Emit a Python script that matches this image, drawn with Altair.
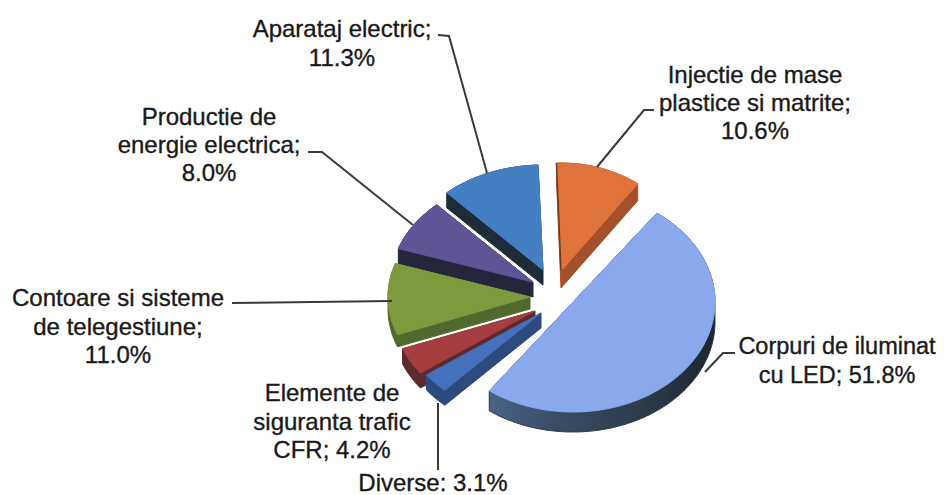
import math
import altair as alt
import pandas as pd

# --- values (drawing order of the original: clockwise from top)
names = ["Injectie", "LED", "Diverse", "Elemente", "Contoare", "Productie", "Aparataj"]
shares = [10.6, 51.8, 3.1, 4.2, 11.0, 8.0, 11.3]
top_colors = ["#E0733C", "#8AA8EC", "#4470BC", "#A53E40", "#7F9A3E", "#5F5596", "#437FC2"]
side_colors = ["#A4502C", "#37475A", "#2B4A7E", "#5E2A2C", "#506A2E", "#25263C", "#1E2B38"]

label_lines = [
    ["Injectie de mase", "plastice si matrite;", "10.6%"],
    ["Corpuri de iluminat", "cu LED; 51.8%"],
    ["Diverse: 3.1%"],
    ["Elemente de", "siguranta trafic", "CFR; 4.2%"],
    ["Contoare si sisteme", "de telegestiune;", "11.0%"],
    ["Productie de", "energie electrica;", "8.0%"],
    ["Aparataj electric;", "11.3%"],
]

# --- layout (page pixels)
W, H = 938, 495
start_deg = -2.0
centers = [(561, 271), (573, 302), (541, 313), (535, 311), (530, 297), (533, 282), (543, 270)]
radii = [(130, 108), (142, 110), (142, 105), (142, 105), (142, 105), (142, 105), (142, 105)]
depths = [17, 20, 15, 15, 12, 15, 15]
end_trim_deg = [0, 6.5, 0, 0, 0, 0, 0]
draw_order = [0, 6, 5, 4, 3, 2, 1]
label_pos = [
    (755, [76, 104, 132], 24), (837, [347, 376], 23.5), (433, [484], 24), (332, [394, 423, 451], 24),
    (118, [299, 328, 356], 24), (209, [118, 146, 174], 24), (342, [30, 59], 24),
]
leaders = [
    [(654, 110), (644, 110), (597, 167)],
    [(735, 353), (723, 353), (705, 372)],
    [(438, 403), (438, 470)],
    [(232, 303), (392, 301)],
    [(308, 152), (322, 152), (413, 225)],
    [(438, 35), (449, 36), (487, 173)],
]
led_side_gradient = alt.LinearGradient(
    gradient="linear", x1=0, x2=1, y1=0, y2=0,
    stops=[
        alt.GradientStop(offset=0, color="#4A6285"),
        alt.GradientStop(offset=0.3, color="#3A4D66"),
        alt.GradientStop(offset=0.7, color="#2C3A48"),
        alt.GradientStop(offset=1, color="#1C2630"),
    ],
)

X = alt.X("x:Q", scale=alt.Scale(domain=[8, W], range=[0, W - 8], nice=False, zero=False), axis=None)
Y = alt.Y("y:Q", scale=alt.Scale(domain=[8, H], range=[0, H - 8], nice=False, zero=False), axis=None)


def sector(i):
    a0 = start_deg + 3.6 * sum(shares[:i])
    a1 = a0 + 3.6 * shares[i] - end_trim_deg[i]
    cx, cy = centers[i]
    rx, ry = radii[i]
    n = max(4, int((a1 - a0) / 2))
    pts = [(cx, cy)]
    for k in range(n + 1):
        t = math.radians(a0 + (a1 - a0) * k / n)
        pts.append((cx + rx * math.sin(t), cy - ry * math.cos(t)))
    return pts


def hull(points):
    pts = sorted(set(points))
    def half(seq):
        out = []
        for p in seq:
            while len(out) >= 2 and (out[-1][0] - out[-2][0]) * (p[1] - out[-2][1]) - (out[-1][1] - out[-2][1]) * (p[0] - out[-2][0]) <= 0:
                out.pop()
            out.append(p)
        return out[:-1]
    return half(pts) + half(pts[::-1])


def polygon(pts, color, stroke=None):
    rows = [{"x": p[0], "y": p[1], "o": j} for j, p in enumerate(pts + pts[:1])]
    return alt.Chart(pd.DataFrame(rows)).mark_line(
        fill=color, stroke=stroke or color, strokeWidth=1, interpolate="linear"
    ).encode(x=X, y=Y, order="o:Q")


def path_line(pts, color, width):
    rows = [{"x": p[0], "y": p[1], "o": j} for j, p in enumerate(pts)]
    return alt.Chart(pd.DataFrame(rows)).mark_line(color=color, strokeWidth=width).encode(x=X, y=Y, order="o:Q")


layers = []
for i in draw_order:
    s = sector(i)
    swept = hull(s + [(x, y + depths[i]) for x, y in s])
    if names[i] == "LED":
        layers.append(polygon(swept, led_side_gradient, stroke="#2C3A48"))
    else:
        layers.append(polygon(swept, side_colors[i]))
    layers.append(polygon(s, top_colors[i]))
    if names[i] == "Injectie":
        layers.append(path_line(s[:2], "#6E3A22", 1.5))

for path in leaders:
    layers.append(path_line(path, "#3A3A3A", 2))

text_rows = []
for lines, (cx, ys, size) in zip(label_lines, label_pos):
    for line, y in zip(lines, ys):
        text_rows.append({"x": cx, "y": y, "t": line, "s": size})
layers.append(
    alt.Chart(pd.DataFrame(text_rows)).mark_text(
        font="Liberation Sans", color="#1A1A1A", align="center", baseline="middle",
        stroke="#1A1A1A", strokeWidth=0.35
    ).encode(x=X, y=Y, text="t:N", size=alt.Size("s:Q", scale=None, legend=None))
)

chart = alt.layer(*layers).properties(
    width=W - 8, height=H - 8, padding=0, autosize=alt.AutoSizeParams(type="none"), background="white"
).configure_view(stroke=None)

chart.save("out.html", embed_options={"renderer": "svg", "actions": False})
